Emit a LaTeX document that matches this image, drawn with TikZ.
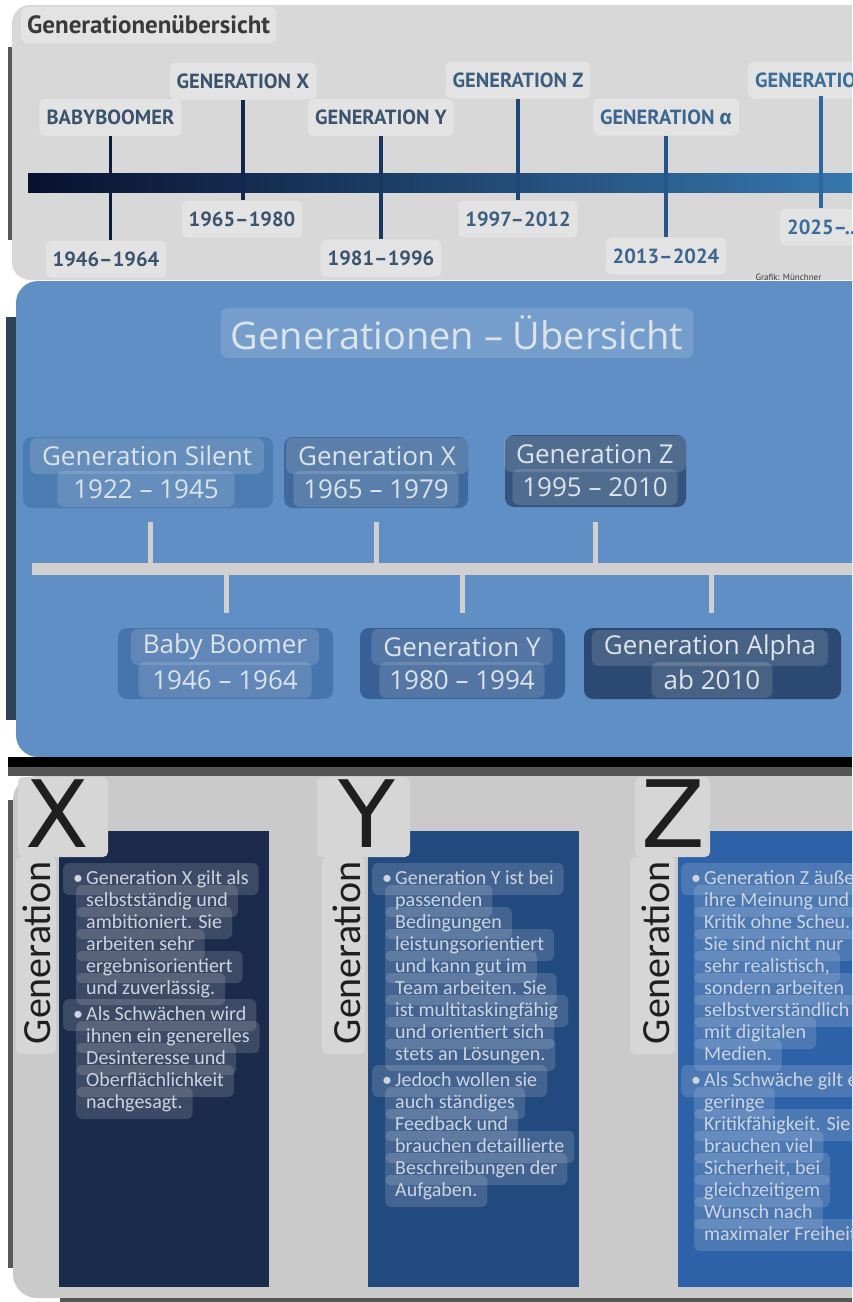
\documentclass[tikz,border=0pt]{standalone}
\usepackage{fontspec}
\setmainfont{Open Sans}
\newfontfamily\ptsans{PT Sans}
\newfontfamily\firasans{Fira Sans}
\newfontfamily\carlito{Carlito}
\newfontfamily\dejavu{DejaVu Sans}

\definecolor{toppanel}{HTML}{D8D8D8}
\definecolor{titlegray}{HTML}{3A3A3A}
\definecolor{slateA}{HTML}{3B536D}
\definecolor{slateB}{HTML}{3C5F80}
\definecolor{slateC}{HTML}{3A6690}
\definecolor{slateD}{HTML}{3B6D9A}
\definecolor{barleft}{HTML}{08112E}
\definecolor{barmid}{HTML}{1B3F72}
\definecolor{barright}{HTML}{3677AE}
\definecolor{tickA}{HTML}{0E1B3C}
\definecolor{tickB}{HTML}{13264F}
\definecolor{tickC}{HTML}{1A3762}
\definecolor{tickD}{HTML}{1E4676}
\definecolor{tickE}{HTML}{245787}
\definecolor{tickF}{HTML}{2E679B}
\definecolor{stripgray}{HTML}{585858}
\definecolor{midblue}{HTML}{5F8FC4}
\definecolor{midnavy}{HTML}{2E4359}
\definecolor{midtext}{HTML}{DCE3EA}
\definecolor{spinegray}{HTML}{D0D0D0}
\definecolor{silentcol}{HTML}{4C7CB2}
\definecolor{gxcol}{HTML}{406A9E}
\definecolor{gzcol}{HTML}{34547D}
\definecolor{boomcol}{HTML}{4674AC}
\definecolor{gycol}{HTML}{376096}
\definecolor{alphacol}{HTML}{2B4972}
\definecolor{botpanel}{HTML}{CACACA}
\definecolor{letterbox}{HTML}{D6D6D6}
\definecolor{lettercol}{HTML}{1F1F1F}
\definecolor{colx}{HTML}{1B2B4B}
\definecolor{coly}{HTML}{234A7E}
\definecolor{colz}{HTML}{2D62A8}
\definecolor{linetext}{HTML}{CDD4DF}
\definecolor{darkband}{HTML}{555555}

\tikzset{
  toplabel/.style={fill=white, fill opacity=0.3, text opacity=1, rounded corners=6pt,
    inner xsep=7pt, minimum height=37pt, font=\ptsans\bfseries\fontsize{20.5}{20.5}\selectfont},
  toptick/.style={line width=3.3pt},
  hilite/.style={fill=white, fill opacity=0.14, text opacity=1, rounded corners=7pt,
    inner xsep=12pt, minimum height=36pt, text=midtext, font=\fontsize{26}{26}\selectfont},
  genbox/.style={rounded corners=9pt, inner sep=0pt, minimum height=71pt},
  midtick/.style={draw=spinegray, line width=5pt},
  bigletter/.style={text=lettercol, font=\dejavu\fontsize{93}{93}\selectfont},
  gentag/.style={fill=letterbox, rounded corners=5pt},
  gentext/.style={text=lettercol, rotate=90, font=\carlito\fontsize{40}{40}\selectfont},
  txtline/.style={anchor=west, fill=white, fill opacity=0.15, text opacity=1, rounded corners=6pt,
    inner xsep=10pt, inner ysep=0pt, text height=15pt, text depth=5pt, minimum height=32pt,
    text=linetext, font=\carlito\fontsize{20}{22}\selectfont}
}
\newcommand{\blt}{\makebox[13pt][l]{\textbullet}}

\begin{document}
\begin{tikzpicture}[x=1pt,y=-1pt]
  \useasboundingbox (0,0) rectangle (852,1302);
  \clip (0,0) rectangle (852,1302);
  \fill[white] (0,0) rectangle (852,1302);

  % upper screenshot
  \fill[stripgray] (8,47) rectangle (18,240);
  \fill[toppanel, rounded corners=18pt] (12,5) rectangle (900,280);
  \node[toplabel, text=titlegray, anchor=west, inner xsep=6pt, minimum height=36pt,
    font=\ptsans\bfseries\fontsize{25}{25}\selectfont] (toptitle) at (21,25) {Generationenübersicht};

  \shade[left color=barleft, middle color=barmid, right color=barright] (28,173) rectangle (852,192);

  \node[toplabel, text=slateA] (bblabel) at (110.5,117.5) {BABYBOOMER};
  \node[toplabel, text=slateA] (bbyear) at (106,259) {1946–1964};
  \node[toplabel, text=slateA] (gxlabel) at (243,81) {GENERATION X};
  \node[toplabel, text=slateA] (gxyear) at (242,219) {1965–1980};
  \node[toplabel, text=slateA] (gylabel) at (381,117.5) {GENERATION Y};
  \node[toplabel, text=slateA] (gyyear) at (381,258) {1981–1996};
  \node[toplabel, text=slateB] (gzlabel) at (518,80) {GENERATION Z};
  \node[toplabel, text=slateB] (gzyear) at (518,219) {1997–2012};
  \node[toplabel, text=slateC] (galabel) at (666,117) {GENERATION {\firasans\bfseries α}};
  \node[toplabel, text=slateC] (gayear) at (666,256) {2013–2024};
  \node[toplabel, text=slateD, anchor=west] (gnlabel) at (748,80) {GENERATION};
  \node[toplabel, text=slateD, anchor=west] (gnyear) at (780,227) {2025–...};
  \node[text=titlegray, anchor=west, font=\ptsans\fontsize{9}{9}\selectfont] (credit) at (752,277) {Grafik: Münchner};

  \draw[toptick, tickA] (bblabel.south) -- (bblabel.south |- bbyear.north);
  \draw[toptick, tickB] (gxlabel.south) -- (gxlabel.south |- gxyear.north);
  \draw[toptick, tickC] (gylabel.south) -- (gylabel.south |- gyyear.north);
  \draw[toptick, tickD] (gzlabel.south) -- (gzlabel.south |- gzyear.north);
  \draw[toptick, tickE] (galabel.south) -- (galabel.south |- gayear.north);
  \coordinate (gntop) at (821,96);
  \draw[toptick, tickF] (gntop) -- (gntop |- gnyear.north);

  % middle screenshot
  \fill[midnavy] (6,317) rectangle (16,720);
  \fill[midblue, rounded corners=22pt] (16,281) rectangle (900,757);
  \node[hilite, inner xsep=10pt, minimum height=50pt, font=\fontsize{38}{38}\selectfont] (midtitle) at (457,333) {Generationen – Übersicht};

  \node[fill=spinegray, minimum width=820pt, minimum height=12pt, inner sep=0pt] (spine) at (442,569) {};

  \node[genbox, fill=silentcol, minimum width=250pt] (silentbox) at (148,472.5) {};
  \node[hilite] (silentname) at (147,456) {Generation Silent};
  \node[hilite, inner xsep=16pt] (silentyears) at (146,489) {1922 – 1945};

  \node[genbox, fill=gxcol, minimum width=184pt] (gxbox) at (376,472.5) {};
  \node[hilite] (gxname) at (377,456) {Generation X};
  \node[hilite, inner xsep=10pt] (gxyears) at (376,489) {1965 – 1979};

  \node[genbox, fill=gzcol, minimum width=181pt, minimum height=72pt] (gzbox) at (595.5,471) {};
  \node[hilite] (gzname) at (595,454) {Generation Z};
  \node[hilite, inner xsep=10pt] (gzyears) at (595,487) {1995 – 2010};

  \node[genbox, fill=boomcol, minimum width=215pt] (boombox) at (225.5,663.5) {};
  \node[hilite] (boomname) at (225,647) {Baby Boomer};
  \node[hilite, inner xsep=14pt] (boomyears) at (225,680) {1946 – 1964};

  \node[genbox, fill=gycol, minimum width=205pt] (gybox) at (462.5,663.5) {};
  \node[hilite] (gyname) at (462,647) {Generation Y};
  \node[hilite, inner xsep=10pt] (gyyears) at (462,680) {1980 – 1994};

  \node[genbox, fill=alphacol, minimum width=257pt] (alphabox) at (712.5,663.5) {};
  \node[hilite] (alphaname) at (710,648) {Generation Alpha};
  \node[hilite, inner xsep=12pt] (alphayears) at (712,680) {ab 2010};

  \coordinate (tsilent) at (150,522);
  \coordinate (tgx) at (376,522);
  \coordinate (tgz) at (595,522);
  \coordinate (tboom) at (226,613);
  \coordinate (tgy) at (462,613);
  \coordinate (talpha) at (711,613);
  \draw[midtick] (tsilent) -- (tsilent |- spine.north);
  \draw[midtick] (tgx) -- (tgx |- spine.north);
  \draw[midtick] (tgz) -- (tgz |- spine.north);
  \draw[midtick] (tboom) -- (tboom |- spine.south);
  \draw[midtick] (tgy) -- (tgy |- spine.south);
  \draw[midtick] (talpha) -- (talpha |- spine.south);

  % lower screenshot
  \fill[black] (8,757) rectangle (852,767);
  \fill[darkband] (8,767) rectangle (852,776);
  \fill[stripgray] (8,800) rectangle (18,1268);
  \fill[botpanel, rounded corners=24pt] (13,776) rectangle (900,1298);
  \fill[darkband] (60,1298) rectangle (852,1302);

  \fill[colx] (59,831) rectangle (269,1287);
  \fill[coly] (368,831) rectangle (579,1287);
  \fill[colz] (678,831) rectangle (900,1287);

  \node[gentag, minimum width=90pt, minimum height=80pt] (xtag) at (63,817) {};
  \node[bigletter] (xletter) at (57,814) {X};
  \node[gentag, minimum width=40pt, minimum height=197pt] (xgentag) at (36,955.5) {};
  \node[gentext] (xgen) at (37,953) {Generation};

  \node[gentag, minimum width=93pt, minimum height=80pt] (ytag) at (363.5,817) {};
  \node[bigletter] (yletter) at (367,814) {Y};
  \node[gentag, minimum width=43pt, minimum height=197pt] (ygentag) at (343.5,955.5) {};
  \node[gentext] (ygen) at (347,953) {Generation};

  \node[gentag, minimum width=75pt, minimum height=80pt] (ztag) at (672.5,817) {};
  \node[bigletter] (zletter) at (673,814) {Z};
  \node[gentag, minimum width=45pt, minimum height=197pt] (zgentag) at (652.5,955.5) {};
  \node[gentext] (zgen) at (656,953) {Generation};

  \node[txtline] (x1) at (63,879) {\blt Generation X gilt als};
  \node[txtline] (x2) at (76,901) {selbstständig und};
  \node[txtline] (x3) at (76,923) {ambitioniert. Sie};
  \node[txtline] (x4) at (76,945) {arbeiten sehr};
  \node[txtline] (x5) at (76,967) {ergebnisorientiert};
  \node[txtline] (x6) at (76,989) {und zuverlässig.};
  \node[txtline] (x7) at (63,1015) {\blt Als Schwächen wird};
  \node[txtline] (x8) at (76,1037) {ihnen ein generelles};
  \node[txtline] (x9) at (76,1059) {Desinteresse und};
  \node[txtline] (x10) at (76,1081) {Oberflächlichkeit};
  \node[txtline] (x11) at (76,1103) {nachgesagt.};

  \node[txtline] (y1) at (372,879) {\blt Generation Y ist bei};
  \node[txtline] (y2) at (385,901) {passenden};
  \node[txtline] (y3) at (385,923) {Bedingungen};
  \node[txtline] (y4) at (385,945) {leistungsorientiert};
  \node[txtline] (y5) at (385,967) {und kann gut im};
  \node[txtline] (y6) at (385,989) {Team arbeiten. Sie};
  \node[txtline] (y7) at (385,1011) {ist multitaskingfähig};
  \node[txtline] (y8) at (385,1033) {und orientiert sich};
  \node[txtline] (y9) at (385,1055) {stets an Lösungen.};
  \node[txtline] (y10) at (372,1081) {\blt Jedoch wollen sie};
  \node[txtline] (y11) at (385,1103) {auch ständiges};
  \node[txtline] (y12) at (385,1125) {Feedback und};
  \node[txtline] (y13) at (385,1147) {brauchen detaillierte};
  \node[txtline] (y14) at (385,1169) {Beschreibungen der};
  \node[txtline] (y15) at (385,1191) {Aufgaben.};

  \node[txtline] (z1) at (681,879) {\blt Generation Z äußert};
  \node[txtline] (z2) at (694,901) {ihre Meinung und};
  \node[txtline] (z3) at (694,923) {Kritik ohne Scheu.};
  \node[txtline] (z4) at (694,945) {Sie sind nicht nur};
  \node[txtline] (z5) at (694,967) {sehr realistisch,};
  \node[txtline] (z6) at (694,989) {sondern arbeiten};
  \node[txtline] (z7) at (694,1011) {selbstverständlich};
  \node[txtline] (z8) at (694,1033) {mit digitalen};
  \node[txtline] (z9) at (694,1055) {Medien.};
  \node[txtline] (z10) at (681,1081) {\blt Als Schwäche gilt eine};
  \node[txtline] (z11) at (694,1103) {geringe};
  \node[txtline] (z12) at (694,1125) {Kritikfähigkeit. Sie};
  \node[txtline] (z13) at (694,1147) {brauchen viel};
  \node[txtline] (z14) at (694,1169) {Sicherheit, bei};
  \node[txtline] (z15) at (694,1191) {gleichzeitigem};
  \node[txtline] (z16) at (694,1213) {Wunsch nach};
  \node[txtline] (z17) at (694,1235) {maximaler Freiheit};
\end{tikzpicture}
\end{document}
